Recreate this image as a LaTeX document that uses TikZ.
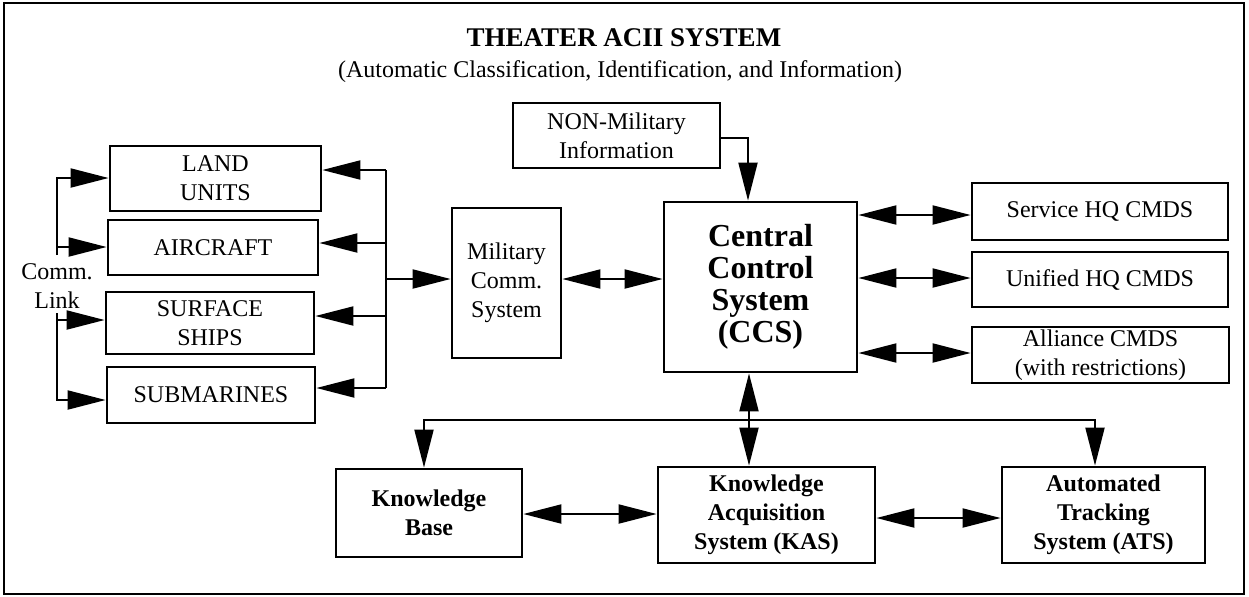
\documentclass[tikz,border=0pt]{standalone}
\usepackage{fontspec}
\setmainfont{Liberation Serif}
\usetikzlibrary{arrows.meta}
\begin{document}
\begin{tikzpicture}[x=0.5pt,y=-0.5pt,
  box/.style={draw,line width=1.4pt,inner sep=0pt,align=center,font=\fontsize{12}{14.5}\selectfont},
  boldbox/.style={box,font=\bfseries\fontsize{12}{14.5}\selectfont},
  lbl/.style={inner sep=0pt,align=center,font=\fontsize{12}{14.5}\selectfont},
  con/.style={line width=1pt},
  arr/.style={con,-{Triangle[length=19pt,width=9.5pt]}},
  darr/.style={con,{Triangle[length=19pt,width=9.5pt]}-{Triangle[length=19pt,width=9.5pt]}}]
\useasboundingbox (0,0) rectangle (1249,596);
\draw[line width=1.2pt] (4,3) rectangle (1244,594);

% titles
\node[lbl,anchor=base,font=\bfseries\fontsize{13.5}{15}\selectfont] (title) at (624,46) {THEATER ACII SYSTEM};
\node[lbl,anchor=base] (subtitle) at (620,77) {(Automatic Classification, Identification, and Information)};

% left units
\node[box,minimum width=105.5pt,minimum height=32.5pt] (land) at (215.5,178.5) {LAND\\UNITS};
\node[box,minimum width=105pt,minimum height=27.5pt] (air) at (213,247.5) {AIRCRAFT};
\node[box,minimum width=104pt,minimum height=31pt] (surf) at (210,323) {SURFACE\\SHIPS};
\node[box,minimum width=104pt,minimum height=28pt] (sub) at (211,395) {SUBMARINES};
\node[lbl] (comm) at (57,286) {Comm.\\Link};

% center
\node[box,minimum width=54.5pt,minimum height=75pt] (mil) at (506.5,283) {Military\\Comm.\\System};
\node[box,minimum width=103.5pt,minimum height=32.5pt] (non) at (616.5,135.5) {NON-Military\\Information};
\node[box,minimum width=96.5pt,minimum height=85pt,font=\bfseries\fontsize{16}{16}\selectfont] (ccs) at (760.5,287) {Central\\Control\\System\\(CCS)};

% right
\node[box,minimum width=128pt,minimum height=28.5pt] (svc) at (1100,211.5) {Service HQ CMDS};
\node[box,minimum width=128pt,minimum height=27.5pt] (uni) at (1100,279.5) {Unified HQ CMDS};
\node[box,minimum width=128.5pt,minimum height=28pt] (all) at (1100.5,355) {Alliance CMDS\\(with restrictions)};

% bottom
\node[boldbox,minimum width=93pt,minimum height=44pt] (kb) at (429,513) {Knowledge\\Base};
\node[boldbox,minimum width=108.5pt,minimum height=48pt] (kas) at (766.5,515) {Knowledge\\Acquisition\\System (KAS)};
\node[boldbox,minimum width=101.5pt,minimum height=48pt] (ats) at (1103.5,515) {Automated\\Tracking\\System (ATS)};

% coordinates
\coordinate (b1) at (386,170);
\coordinate (b2) at (386,243);
\coordinate (b3) at (386,316);
\coordinate (b4) at (386,388);
\coordinate (bm) at (386,279);
\coordinate (l1) at (57,178);
\coordinate (l2) at (57,247);
\coordinate (l2e) at (57,255);
\coordinate (l3s) at (57,313);
\coordinate (l3) at (57,320);
\coordinate (l4) at (57,400);
\coordinate (n1) at (748,138);
\coordinate (m1) at (600,279);
\coordinate (r1) at (900,215);
\coordinate (r2) at (900,278);
\coordinate (r3) at (900,353);
\coordinate (t1) at (424,420);
\coordinate (t2) at (1095,420);
\coordinate (c1) at (749,420);
\coordinate (k1) at (600,514);
\coordinate (k2) at (900,518);

% left bus
\draw[con] (b1) -- (b4);
\draw[arr] (b1) -- (b1 -| land.east);
\draw[arr] (b2) -- (b2 -| air.east);
\draw[arr] (b3) -- (b3 -| surf.east);
\draw[arr] (b4) -- (b4 -| sub.east);
\draw[arr] (bm) -- (bm -| mil.west);

% comm links
\draw[arr] (l2e) -- (l1) -- (l1 -| land.west);
\draw[arr] (l2) -- (l2 -| air.west);
\draw[arr] (l3s) -- (l4) -- (l4 -| sub.west);
\draw[arr] (l3) -- (l3 -| surf.west);

% center connections
\draw[arr] (n1 -| non.east) -| (ccs.north -| n1);
\draw[darr] (m1 -| mil.east) -- (m1 -| ccs.west);

% right connections
\draw[darr] (r1 -| ccs.east) -- (r1 -| svc.west);
\draw[darr] (r2 -| ccs.east) -- (r2 -| uni.west);
\draw[darr] (r3 -| ccs.east) -- (r3 -| all.west);

% bottom connections
\draw[darr] (t1 |- kb.north) -- (t1) -- (t2) -- (t2 |- ats.north);
\draw[darr] (c1 |- ccs.south) -- (c1 |- kas.north);
\draw[darr] (k1 -| kb.east) -- (k1 -| kas.west);
\draw[darr] (k2 -| kas.east) -- (k2 -| ats.west);
\end{tikzpicture}
\end{document}
